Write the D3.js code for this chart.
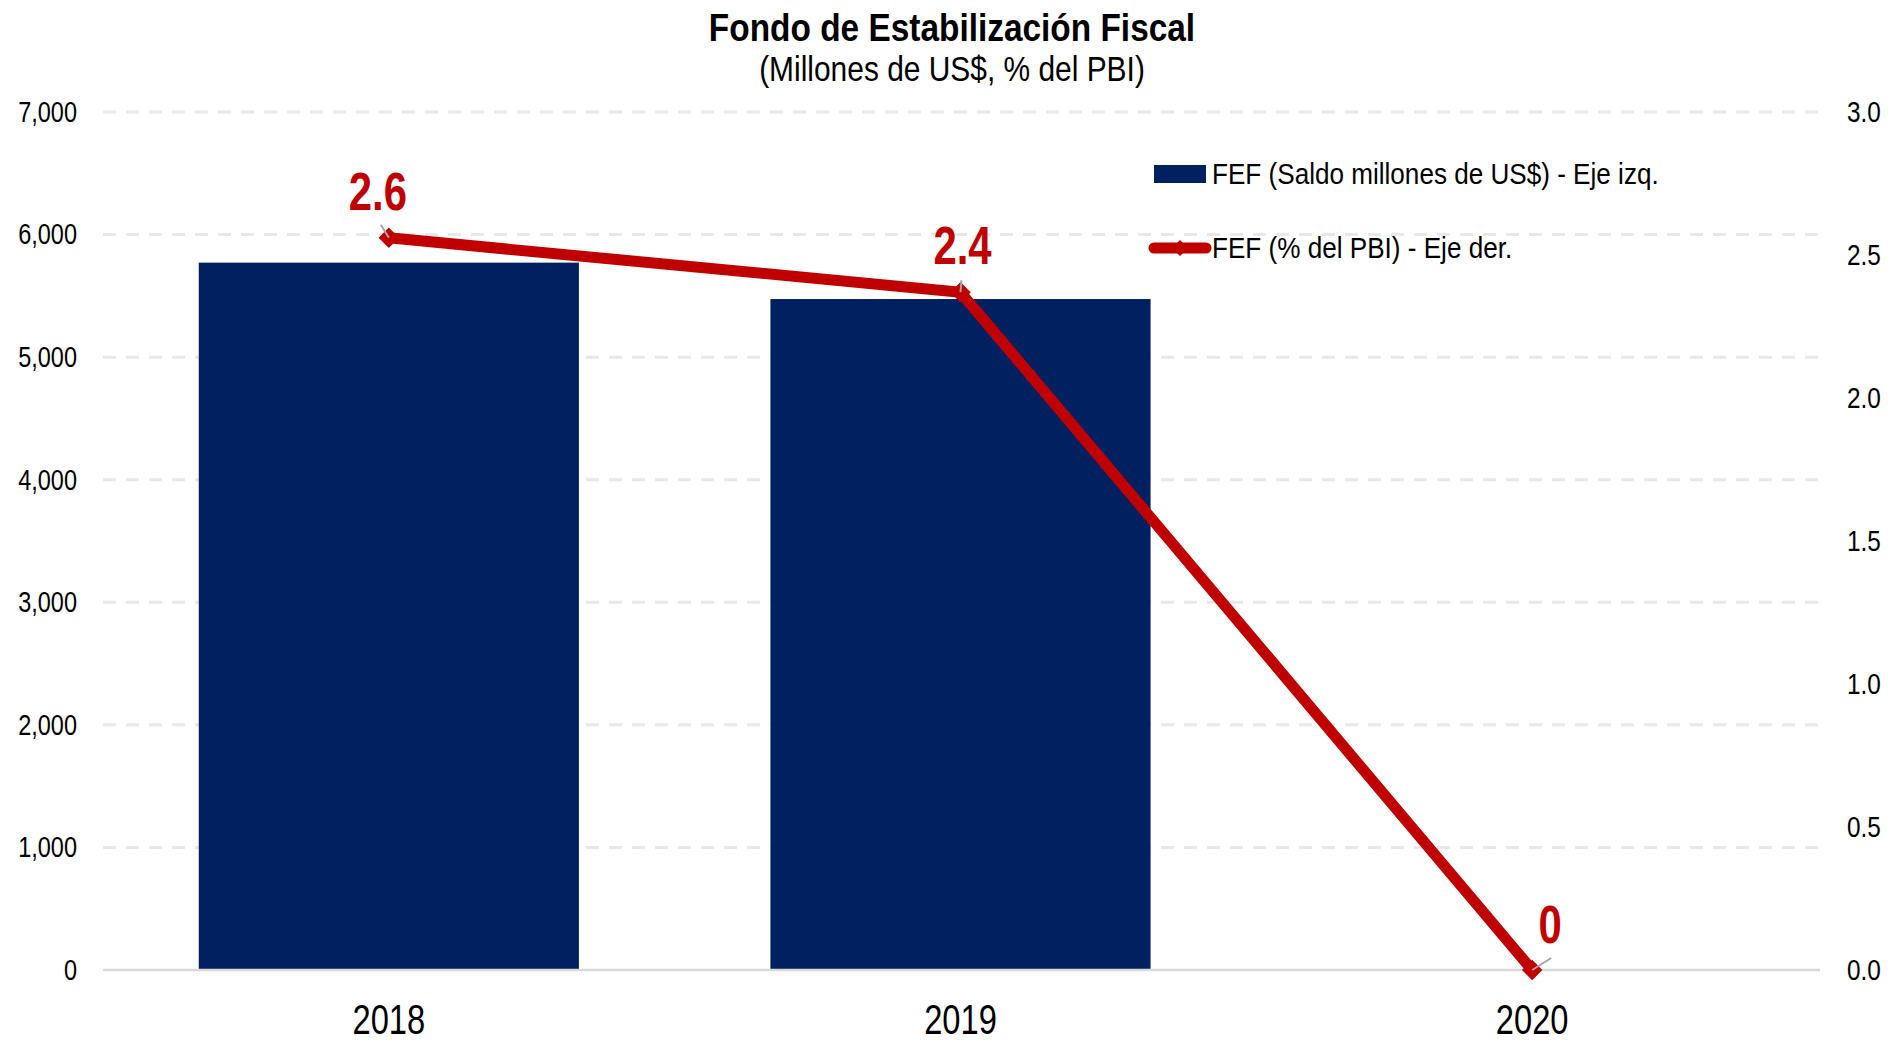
<!DOCTYPE html>
<html>
<head>
<meta charset="utf-8">
<title>Fondo de Estabilización Fiscal</title>
<script src="https://cdn.jsdelivr.net/npm/d3@7"></script>
<style>
  body { margin: 0; background: #fff; }
  text { font-family: "Liberation Sans", Arial, sans-serif; }
</style>
</head>
<body>
<script>
// datos
var years = ["2018", "2019", "2020"];
var saldo = [5771, 5474, 0];        // millones de US$ (eje izq.)
var pbi = [2.56, 2.37, 0.0];        // % del PBI (eje der.)
var pbiLabels = ["2.6", "2.4", "0"];
var leftTicks = [0, 1000, 2000, 3000, 4000, 5000, 6000, 7000];
var rightTicks = [0, 0.5, 1.0, 1.5, 2.0, 2.5, 3.0];

var w = 1903, h = 1042;
var svg = d3.select("body").append("svg").attr("width", w).attr("height", h);

var x = d3.scaleBand().domain(years).range([103, 1818]).paddingInner(0.335).paddingOuter(0.1675);
var yL = d3.scaleLinear().domain([0, 7000]).range([970, 112]);
var yR = d3.scaleLinear().domain([0, 3]).range([970, 112]);

// texto estrecho (Arial Narrow no esta, se comprime Liberation Sans)
function narrow(parent, px, py, sx, size, txt, anchor) {
  return parent.append("text")
    .attr("transform", "translate(" + px + "," + py + ") scale(" + sx + ",1)")
    .attr("text-anchor", anchor || "start")
    .attr("font-size", size)
    .text(txt);
}

// gridlines
svg.append("g").selectAll("line")
  .data(leftTicks.filter(function(d){ return d > 0; }))
  .enter().append("line")
  .attr("x1", 103).attr("x2", 1820)
  .attr("y1", function(d){ return yL(d); }).attr("y2", function(d){ return yL(d); })
  .attr("stroke", "#e8e8e8").attr("stroke-width", 3).attr("stroke-dasharray", "13,10");

// left axis
var axL = svg.append("g").attr("transform", "translate(77,0)")
  .call(d3.axisLeft(yL).tickValues(leftTicks).tickSize(0).tickPadding(0).tickFormat(d3.format(",")));
axL.select(".domain").remove();
axL.selectAll("text").attr("font-size", 29).attr("fill", "#000").attr("font-family", null)
  .attr("transform", "scale(0.81,1)");

// right axis
var axR = svg.append("g").attr("transform", "translate(1847,0)")
  .call(d3.axisRight(yR).tickValues(rightTicks).tickSize(0).tickPadding(0).tickFormat(d3.format(".1f")));
axR.select(".domain").remove();
axR.selectAll("text").attr("font-size", 29).attr("fill", "#000").attr("font-family", null)
  .attr("transform", "scale(0.84,1)");

// bars
svg.append("g").selectAll("rect")
  .data(saldo)
  .enter().append("rect")
  .attr("x", function(d, i){ return x(years[i]); })
  .attr("y", function(d){ return yL(d); })
  .attr("width", x.bandwidth())
  .attr("height", function(d){ return yL(0) - yL(d); })
  .attr("fill", "#002060");

// zero line
svg.append("line").attr("x1", 103).attr("x2", 1820).attr("y1", yL(0)).attr("y2", yL(0))
  .attr("stroke", "#d9d9d9").attr("stroke-width", 2.5);

// bottom axis
var axB = svg.append("g").attr("transform", "translate(0,1034)")
  .call(d3.axisBottom(x).tickSize(0).tickPadding(0));
axB.select(".domain").remove();
axB.selectAll("text").attr("font-size", 43).attr("fill", "#000").attr("dy", 0).attr("y", 0)
  .attr("font-family", null).attr("transform", "scale(0.76,1)");

// line
var cx = function(i){ return x(years[i]) + x.bandwidth() / 2; };
var line = d3.line().x(function(d, i){ return cx(i); }).y(function(d){ return yR(d); });
svg.append("path").datum(pbi)
  .attr("d", line).attr("fill", "none").attr("stroke", "#c00000")
  .attr("stroke-width", 11).attr("stroke-linejoin", "round");

svg.append("g").selectAll("path")
  .data(pbi).enter().append("path")
  .attr("d", d3.symbol().type(d3.symbolSquare).size(210))
  .attr("transform", function(d, i){ return "translate(" + cx(i) + "," + yR(d) + ") rotate(45)"; })
  .attr("fill", "#c00000");

// data labels (moved like in the original)
var nudge = [[-11, -28], [2, -28], [18, -27]];
var lead = [[-8, -13], [1, -12], [19, -12]];
svg.append("g").selectAll("line")
  .data(pbi).enter().append("line")
  .attr("x1", function(d, i){ return cx(i); })
  .attr("y1", function(d){ return yR(d); })
  .attr("x2", function(d, i){ return cx(i) + lead[i][0]; })
  .attr("y2", function(d, i){ return yR(d) + lead[i][1]; })
  .attr("stroke", "#a6a6a6").attr("stroke-width", 2);

var lbl = svg.append("g").attr("fill", "#c00000").attr("font-weight", "bold");
pbi.forEach(function(d, i){
  narrow(lbl, cx(i) + nudge[i][0], yR(d) + nudge[i][1], 0.79, 53, pbiLabels[i], "middle");
});

// title
var tt = svg.append("g");
narrow(tt, 952, 41, 0.857, 39, "Fondo de Estabilización Fiscal", "middle").attr("font-weight", "bold");
narrow(tt, 952, 81, 0.855, 35, "(Millones de US$, % del PBI)", "middle");

// legend
var lg = svg.append("g");
lg.append("rect").attr("x", 1154).attr("y", 165).attr("width", 52).attr("height", 18).attr("fill", "#002060");
narrow(lg, 1212, 184, 0.885, 29.5, "FEF (Saldo millones de US$) - Eje izq.");
lg.append("line").attr("x1", 1154).attr("x2", 1206).attr("y1", 248).attr("y2", 248)
  .attr("stroke", "#c00000").attr("stroke-width", 11).attr("stroke-linecap", "round");
lg.append("path").attr("d", d3.symbol().type(d3.symbolSquare).size(130))
  .attr("transform", "translate(1180,248) rotate(45)").attr("fill", "#c00000");
narrow(lg, 1212, 258, 0.885, 29.5, "FEF (% del PBI) - Eje der.");
</script>
</body>
</html>
